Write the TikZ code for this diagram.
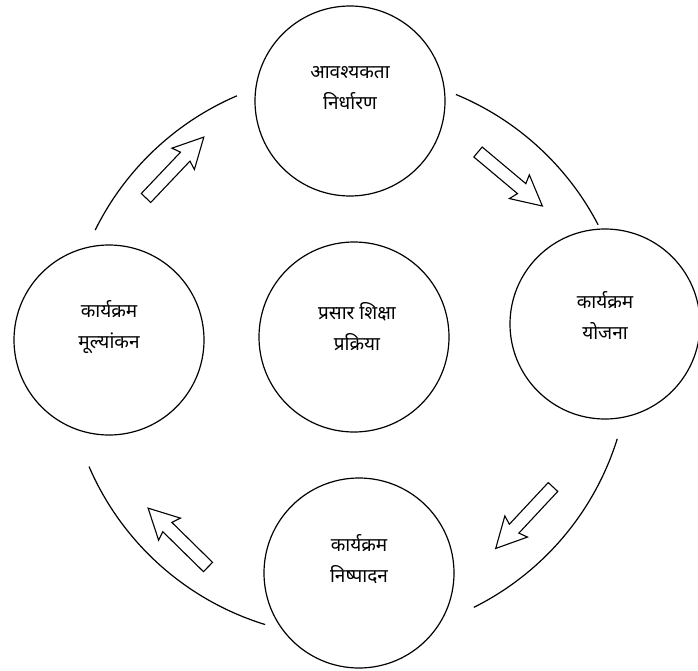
\documentclass[tikz,border=0pt]{standalone}
\usepackage{fontspec}
\setmainfont[Script=Devanagari]{Noto Sans}
\usetikzlibrary{calc}
\begin{document}
\begin{tikzpicture}[x=1pt,y=-1pt,
  ring/.style={circle,draw,line width=1.2pt,minimum size=190pt,inner sep=0pt},
  lbl/.style={align=center,font=\fontsize{19}{31}\selectfont},
  arc line/.style={line width=1.2pt},
  blockarrow/.pic={\draw[line width=1.1pt,line join=miter,fill=white]
     (0,-6.5) -- (57,-6.5) -- (54,-15.5) -- (84,0) -- (54,15.5) -- (57,6.5) -- (0,6.5) -- cycle;}]
\useasboundingbox (0,0) rectangle (698,671);
% outer ring centre
\coordinate (C) at (348,355);
\draw[arc line] (C) ++(-113.2:282) arc[start angle=-113.2,end angle=-153.7,radius=282];
\draw[arc line] (C) ++(-67.5:282) arc[start angle=-67.5,end angle=-27.5,radius=282];
\draw[arc line] (C) ++(17.3:282) arc[start angle=17.3,end angle=63.5,radius=282];
\draw[arc line] (C) ++(107.1:282) arc[start angle=107.1,end angle=156.7,radius=282];
% circles
\node[ring] (need) at (350,101) {};
\node[ring] (plan) at (605,324) {};
\node[ring] (exec) at (359,573) {};
\node[ring] (eval) at (109,340) {};
\node[ring] (mid)  at (354,337) {};
% labels
\node[lbl] (needt) at ($(need)+(0,-13)$) {आवश्यकता\\निर्धारण};
\node[lbl] (plant) at ($(plan)+(0,-9)$) {कार्यक्रम\\योजना};
\node[lbl] (exect) at ($(exec)+(0,-14)$) {कार्यक्रम\\निष्पादन};
\node[lbl] (evalt) at ($(eval)+(0,-13)$) {कार्यक्रम\\मूल्यांकन};
\node[lbl] (midt)  at ($(mid)+(3,-10)$) {प्रसार शिक्षा\\प्रक्रिया};
% block arrows
\pic[rotate=46.5] at (146,198) {blockarrow};
\pic[rotate=-40] at (478,152) {blockarrow};
\pic[rotate=-133] at (553,487) {blockarrow};
\pic[rotate=135.5] at (208,567) {blockarrow};
\end{tikzpicture}
\end{document}
